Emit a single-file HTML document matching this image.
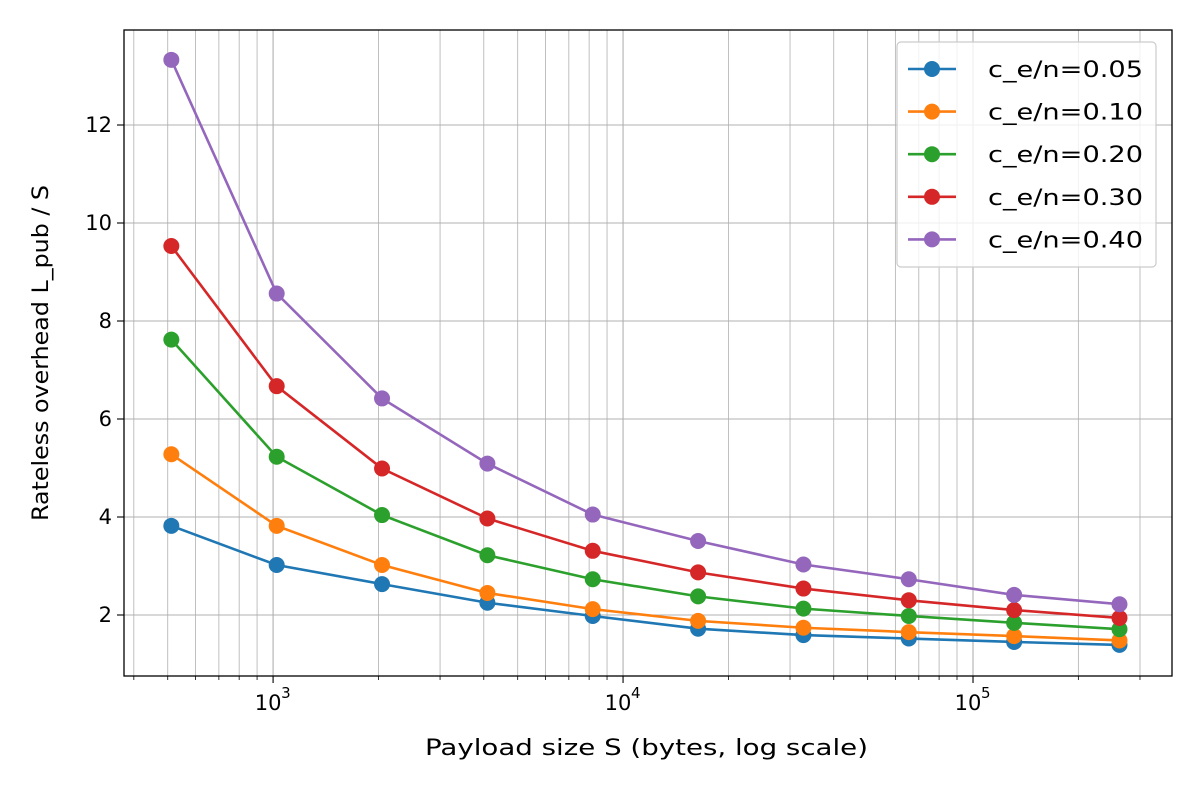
<!DOCTYPE html>
<html><head><meta charset="utf-8"><style>
body{margin:0;background:#fff;}
svg text{font-family:"DejaVu Sans","Liberation Sans",sans-serif;fill:#000;}
</style></head><body>
<svg id="chart" width="1200" height="800" viewBox="0 0 1200 800" xmlns="http://www.w3.org/2000/svg">
<rect width="1200" height="800" fill="#fff"/>
<g id="grid"></g><g id="series"></g><g id="axes"></g><g id="legend"></g>
</svg>
<script>
const payloadSizes=[512,1024,2048,4096,8192,16384,32768,65536,131072,262144];
const seriesLabels=["c_e/n=0.05","c_e/n=0.10","c_e/n=0.20","c_e/n=0.30","c_e/n=0.40"];
const seriesColors=["#1f77b4","#ff7f0e","#2ca02c","#d62728","#9467bd"];
const s005=[3.82,3.02,2.63,2.25,1.98,1.72,1.59,1.52,1.45,1.39];
const s010=[5.28,3.82,3.02,2.45,2.12,1.88,1.74,1.65,1.57,1.48];
const s020=[7.62,5.23,4.04,3.22,2.73,2.38,2.13,1.98,1.84,1.71];
const s030=[9.53,6.67,4.99,3.97,3.31,2.87,2.54,2.30,2.10,1.94];
const s040=[13.33,8.56,6.42,5.09,4.05,3.51,3.03,2.73,2.41,2.22];
const yTicks=[2,4,6,8,10,12];
const xMajorTicks=[1000,10000,100000];
const xMajorLabels=["3","4","5"];

const L=124,R=1172,T=30,B=676;
const xMin=2.574,xMax=5.5686,yMin=(713-676)/49,yMax=(713-30)/49;
const X=v=>L+(Math.log10(v)-xMin)/(xMax-xMin)*(R-L);
const Y=v=>B-(v-yMin)/(yMax-yMin)*(B-T);
const NS="http://www.w3.org/2000/svg";
function mk(tag,attrs,parent){const e=document.createElementNS(NS,tag);for(const k in attrs)e.setAttribute(k,attrs[k]);parent.appendChild(e);return e;}
const grid=document.getElementById('grid'),ser=document.getElementById('series'),axes=document.getElementById('axes'),leg=document.getElementById('legend');

for(let d=2;d<=5;d++){for(let m=1;m<=9;m++){const v=m*Math.pow(10,d);const x=X(v);if(x<L||x>R)continue;
 const g=mk('line',{x1:x,x2:x,y1:T,y2:B,stroke:'#b0b0b0','stroke-width':m===1?1.1:0.8},grid);
 
 const t=mk('line',{x1:x,x2:x,y1:B,y2:B+(m===1?7:4),stroke:'#000','stroke-width':m===1?1.1:0.8},axes);
 }}
yTicks.forEach(v=>{const y=Y(v);
 const g=mk('line',{x1:L,x2:R,y1:y,y2:y,stroke:'#b0b0b0','stroke-width':1.1},grid);
 
 const t=mk('line',{x1:L-7,x2:L,y1:y,y2:y,stroke:'#000','stroke-width':1.1},axes);
 
 const tx=mk('text',{x:L-12,y:y+7,'text-anchor':'end','font-size':21},axes);tx.textContent=v;
 });
xMajorTicks.forEach((v,i)=>{const x=X(v);
 const tx=mk('text',{x:x-5,y:B+34,'text-anchor':'middle','font-size':21},axes);tx.textContent='10';
 
 const sp=mk('text',{x:x+8,y:B+22,'text-anchor':'start','font-size':15},axes);sp.textContent=xMajorLabels[i];
 });
const frame=mk('rect',{x:L,y:T,width:R-L,height:B-T,fill:'none',stroke:'#000','stroke-width':1.3},axes);

const xt=mk('text',{x:425,y:755,'font-size':22,textLength:443,lengthAdjust:'spacingAndGlyphs'},axes);xt.textContent='Payload size S (bytes, log scale)';

const yt=mk('text',{x:-168,y:0,'font-size':22,textLength:336,lengthAdjust:'spacingAndGlyphs',transform:`translate(48,${(T+B)/2}) rotate(-90)`},axes);yt.textContent='Rateless overhead L_pub / S';


const allSeries=[s005,s010,s020,s030,s040];
allSeries.forEach((vals,si)=>{const c=seriesColors[si];
 const pts=vals.map((v,i)=>X(payloadSizes[i])+','+Y(v)).join(' ');
 const pl=mk('polyline',{points:pts,fill:'none',stroke:c,'stroke-width':2.6},ser);
 
 vals.forEach((v,i)=>{const p=mk('circle',{cx:X(payloadSizes[i]),cy:Y(v),r:8,fill:c},ser);
  });});

const lb=mk('rect',{x:897,y:42,width:259,height:225,rx:4,fill:'#fff','fill-opacity':0.8,stroke:'#ccc','stroke-width':1.2},leg);

seriesLabels.forEach((lab,i)=>{const y=69+i*42.6,c=seriesColors[i];
 const g=mk('g',{},leg);
 mk('line',{x1:908,x2:956,y1:y,y2:y,stroke:c,'stroke-width':2.6},g);
 mk('circle',{cx:932,cy:y,r:8,fill:c},g);
 const t=mk('text',{x:988,y:y+8,'font-size':22,textLength:155,lengthAdjust:'spacingAndGlyphs'},g);t.textContent=lab;});
</script>
</body></html>
